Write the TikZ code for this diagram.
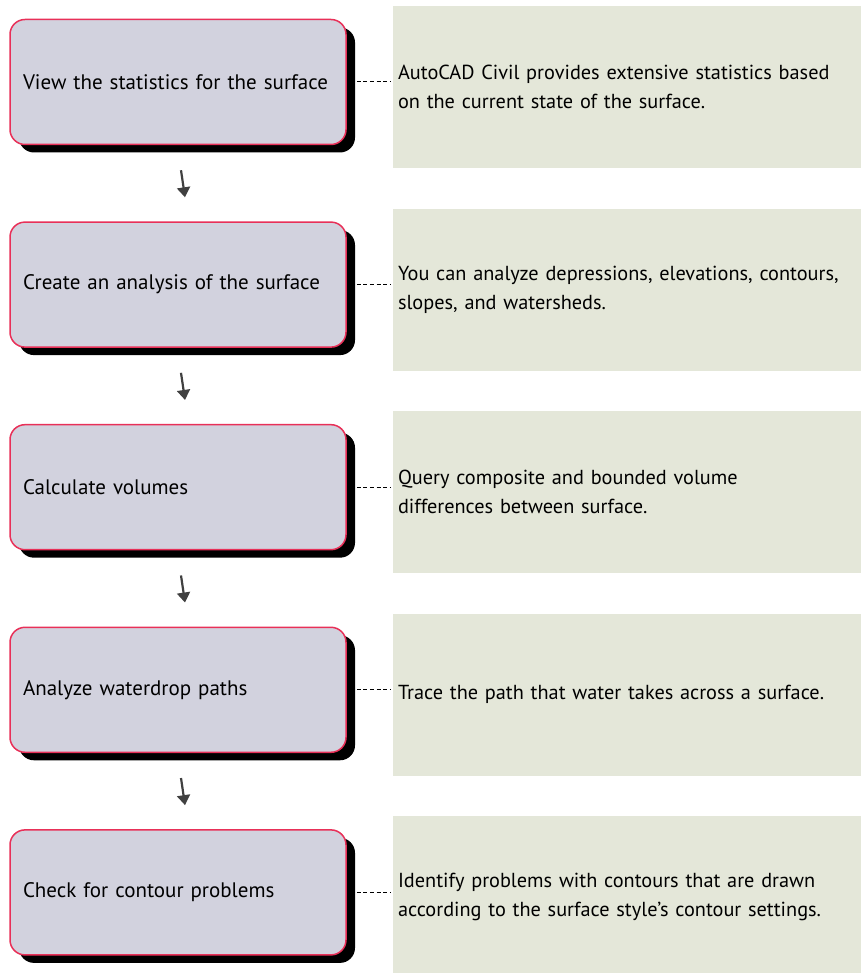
\documentclass[tikz,border=0pt]{standalone}
\usepackage{fontspec}
\setmainfont{PT Sans}
\usetikzlibrary{shadows,arrows.meta}
\definecolor{boxfill}{RGB}{210,210,222}
\definecolor{boxline}{RGB}{232,48,88}
\definecolor{notefill}{RGB}{228,231,217}
\definecolor{arrowgray}{RGB}{64,64,64}
\hyphenpenalty=10000
\begin{document}
\begin{tikzpicture}[
            x=1pt, y=1pt,
            node distance=202.6pt,
            every node/.style={font=\fontsize{21}{29}\selectfont},
            stepbox/.style={draw=boxline, line width=1.5pt, fill=boxfill, rounded corners=15pt,
                minimum width=336pt, minimum height=125pt, text width=310pt, align=left, inner xsep=13pt,
                drop shadow={shadow xshift=9pt, shadow yshift=-8pt, fill=black, opacity=1, draw=none}},
            note/.style={fill=notefill, minimum width=468pt, minimum height=162pt,
                font=\fontsize{20.3}{29}\selectfont, text width=458pt, align=left, inner xsep=5pt},
            link/.style={draw, dash pattern=on 4pt off 2.6pt, line width=1pt},
            flow/.style={draw=arrowgray, line width=2.2pt, -{Triangle[length=10pt, width=13pt]}}
        ]
            \useasboundingbox (0,0) rectangle (861,973);

            \node[stepbox] (b1) at (178,891) {View the statistics for the surface};
            \node[stepbox, below of=b1] (b2) {Create an analysis of the surface};
            \node[stepbox, below of=b2] (b3) {Calculate volumes};
            \node[stepbox, below of=b3] (b4) {Analyze waterdrop paths};
            \node[stepbox, below of=b4] (b5) {Check for contour problems};

            \node[note, right of=b1, node distance=449pt, yshift=-5pt] (n1) {AutoCAD Civil provides extensive statistics based \\ on the current state of the surface.};
            \node[note, right of=b2, node distance=449pt, yshift=-5pt] (n2) {You can analyze depressions, elevations, contours, \\ slopes, and watersheds.};
            \node[note, right of=b3, node distance=449pt, yshift=-5pt] (n3) {Query composite and bounded volume \\ differences between surface.};
            \node[note, right of=b4, node distance=449pt, yshift=-5pt] (n4) {Trace the path that water takes across a surface.};
            \node[note, right of=b5, node distance=449pt, yshift=-5pt] (n5) {Identify problems with contours that are drawn \\ according to the surface style’s contour settings.};

            \foreach \i in {1,...,5}
                \draw[link] ([xshift=10pt]b\i.east) -- ([xshift=-3pt]b\i.east -| n\i.west);

            \draw[flow] ([xshift=3pt, yshift=-25pt]b1.south) -- ([xshift=7pt, yshift=24pt]b2.north);
            \draw[flow] ([xshift=3pt, yshift=-25pt]b2.south) -- ([xshift=7pt, yshift=24pt]b3.north);
            \draw[flow] ([xshift=3pt, yshift=-25pt]b3.south) -- ([xshift=7pt, yshift=24pt]b4.north);
            \draw[flow] ([xshift=3pt, yshift=-25pt]b4.south) -- ([xshift=7pt, yshift=24pt]b5.north);

        \end{tikzpicture}
\end{document}
